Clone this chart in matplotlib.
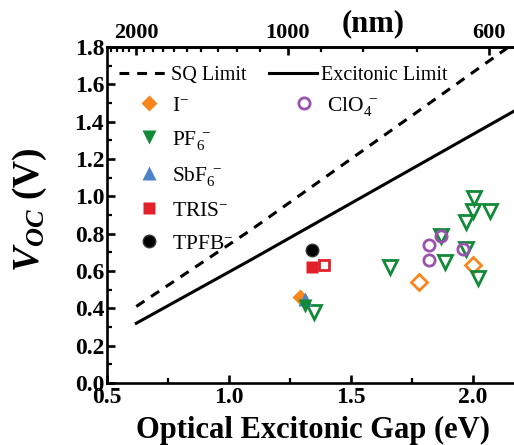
import numpy as np
import matplotlib
matplotlib.use("Agg")
import matplotlib.pyplot as plt
from matplotlib.lines import Line2D
from matplotlib.ticker import MultipleLocator, FixedLocator

plt.rcParams['font.family'] = ['Liberation Serif', 'DejaVu Serif']
plt.rcParams['mathtext.fontset'] = 'custom'
plt.rcParams['mathtext.rm'] = 'Liberation Serif'
plt.rcParams['mathtext.it'] = 'Liberation Serif:italic'
plt.rcParams['mathtext.bf'] = 'Liberation Serif:bold'
plt.rcParams['mathtext.bfit'] = 'Liberation Serif:bold:italic'

# ---- data ----
sq_eg = [0.62, 1.09, 2.2]
sq_voc = [0.41, 0.82, 1.85]
exc_eg = [0.62, 1.09, 2.2]
exc_voc = [0.32, 0.66, 1.48]

i_filled_eg = [1.29]
i_filled_voc = [0.46]
i_open_eg = [1.78, 2.00]
i_open_voc = [0.54, 0.63]

pf6_filled_eg = [1.31]
pf6_filled_voc = [0.41]
pf6_open_eg = [1.35, 1.66, 1.87, 1.885, 1.97, 2.02, 1.97, 2.00, 2.07, 2.005]
pf6_open_voc = [0.38, 0.62, 0.79, 0.65, 0.72, 0.56, 0.86, 0.92, 0.92, 0.99]

sbf6_eg = [1.31]
sbf6_voc = [0.45]

tris_filled_eg = [1.34]
tris_filled_voc = [0.62]
tris_open_eg = [1.39]
tris_open_voc = [0.63]

tpfb_eg = [1.34]
tpfb_voc = [0.71]

clo4_eg = [1.82, 1.82, 1.87, 1.96]
clo4_voc = [0.74, 0.66, 0.79, 0.72]

top_major_nm = [2000, 1000, 600]
top_minor_nm = [2400, 2300, 2200, 2100, 1900, 1800, 1700, 1600, 1500, 1400,
                1300, 1200, 1100, 900, 800, 700]

# ---- colors ----
c_or = '#F7861C'
c_gr = '#138A3A'
c_bl = '#4C82C6'
c_rd = '#E2202A'
c_pu = '#9A52AE'

W, H = 514, 445
fig = plt.figure(figsize=(W / 100, H / 100), dpi=100)
ax = fig.add_axes([107 / W, 62 / H, 414.8 / W, 336 / H])
ax.set_xlim(0.5, 2.2)
ax.set_ylim(0.0, 1.8)

ax.plot(sq_eg, sq_voc, 'k--', lw=2.2, dashes=(3.2, 2.6), zorder=2)
ax.plot(exc_eg, exc_voc, 'k-', lw=2.2, zorder=2)

ms = 9
mew = 2.0
ax.plot(i_open_eg, i_open_voc, 'D', ls='none', ms=ms * 0.85, mfc='none', mec=c_or, mew=mew, zorder=3)
ax.plot(pf6_open_eg, pf6_open_voc, 'v', ls='none', ms=ms + 1, mfc='none', mec=c_gr, mew=mew, zorder=3)
ax.plot(clo4_eg, clo4_voc, 'o', ls='none', ms=ms * 0.9, mfc='none', mec=c_pu, mew=mew, zorder=3)
ax.plot(tris_open_eg, tris_open_voc, 's', ls='none', ms=ms * 0.85, mfc='none', mec=c_rd, mew=mew, zorder=3)

ax.plot(i_filled_eg, i_filled_voc, 'D', ls='none', ms=ms * 0.85, color=c_or, mec='none', zorder=4)
ax.plot(sbf6_eg, sbf6_voc, '^', ls='none', ms=ms + 1, color=c_bl, mec='none', zorder=5)
ax.plot(pf6_filled_eg, pf6_filled_voc, 'v', ls='none', ms=ms + 1, color=c_gr, mec='none', zorder=6)
ax.plot(tris_filled_eg, tris_filled_voc, 's', ls='none', ms=ms * 0.9, color=c_rd, mec='none', zorder=4)
ax.plot(tpfb_eg, tpfb_voc, 'o', ls='none', ms=ms, color='black', mec='#333333', zorder=4)

# axes styling
for s in ax.spines.values():
    s.set_linewidth(1.9)
ax.xaxis.set_major_locator(MultipleLocator(0.5))
ax.xaxis.set_minor_locator(MultipleLocator(0.25))
ax.yaxis.set_major_locator(MultipleLocator(0.2))
ax.yaxis.set_minor_locator(MultipleLocator(0.1))
ax.tick_params(which='major', direction='in', length=6, width=1.9, labelsize=17)
ax.tick_params(axis='x', which='major', pad=3)
ax.tick_params(axis='y', which='major', pad=2)
ax.tick_params(which='minor', direction='in', length=3.5, width=1.6)
ax.tick_params(axis='x', which='both', top=False)
ax.tick_params(axis='y', which='both', right=False)
ax.set_xticks([0.5, 1.0, 1.5, 2.0])
ax.set_xticklabels(['0.5', '1.0', '1.5', '2.0'], fontweight='bold')
ax.set_yticks(np.arange(0, 1.81, 0.2))
ax.set_yticklabels(['%.1f' % v for v in np.arange(0, 1.81, 0.2)], fontweight='bold')

ax.set_xlabel('Optical Excitonic Gap (eV)', fontsize=22, fontweight='bold')
ax.xaxis.label.set_va('center')
ax.xaxis.set_label_coords(0.497, -0.14)
ax.set_ylabel(r'$\mathbfit{V}_{\mathbfit{OC}}$ (V)', fontsize=27, fontweight='bold')
ax.yaxis.label.set_va('center')
ax.yaxis.set_label_coords(-0.186, 0.515)


def ev2nm(x):
    x = np.asarray(x, dtype=float)
    with np.errstate(divide='ignore'):
        return np.where(x == 0, np.inf, 1240.0 / np.where(x == 0, 1, x))


sec = ax.secondary_xaxis('top', functions=(ev2nm, ev2nm))
sec.spines['top'].set_linewidth(1.9)
sec.xaxis.set_major_locator(FixedLocator(top_major_nm))
sec.xaxis.set_minor_locator(FixedLocator(top_minor_nm))
sec.tick_params(which='major', direction='in', length=6, width=1.9, labelsize=16, pad=3)
sec.tick_params(which='minor', direction='in', length=3.5, width=1.6)
sec.set_xticks(top_major_nm)
sec.set_xticklabels([str(v) for v in top_major_nm], fontweight='bold')
fig.text(373 / W, 1 - 24 / H, '(nm)', fontsize=22, fontweight='bold', ha='center', va='center')

# legends
line_handles = [Line2D([], [], color='k', ls='--', lw=2.2, dashes=(3.2, 2.6)),
                Line2D([], [], color='k', ls='-', lw=2.2)]
leg1 = ax.legend(line_handles, ['SQ Limit', 'Excitonic Limit'], ncol=2, frameon=False,
                 fontsize=14.5, loc='upper left', bbox_to_anchor=(-0.005, 0.985),
                 handlelength=2.4, columnspacing=1.1, handletextpad=0.2, borderaxespad=0.3)
ax.add_artist(leg1)

blank = Line2D([], [], ls='none', marker='none')
mk_handles = [Line2D([], [], ls='none', marker='D', ms=ms * 0.85, color=c_or, mec='none'),
              Line2D([], [], ls='none', marker='v', ms=ms + 1, color=c_gr, mec='none'),
              Line2D([], [], ls='none', marker='^', ms=ms + 1, color=c_bl, mec='none'),
              Line2D([], [], ls='none', marker='s', ms=ms * 0.9, color=c_rd, mec='none'),
              Line2D([], [], ls='none', marker='o', ms=ms, color='black', mec='#333333'),
              Line2D([], [], ls='none', marker='o', ms=ms * 0.9, mfc='none', mec=c_pu, mew=mew),
              blank, blank, blank, blank]
mk_labels = [r'I$^{-}$', r'PF$_6^{\ -}$', r'SbF$_6^{\ -}$', r'TRIS$^{-}$', r'TPFB$^{-}$',
             r'ClO$_4^{\ -}$', '', '', '', '']
leg2 = ax.legend(mk_handles, mk_labels, ncol=2, frameon=False, fontsize=15.5,
                 loc='upper left', bbox_to_anchor=(0.02, 0.915),
                 handlelength=1.3, handletextpad=0.45, labelspacing=0.6, columnspacing=2.6)
leg2.set_zorder(10)

fig.savefig('out.png', dpi=100)
